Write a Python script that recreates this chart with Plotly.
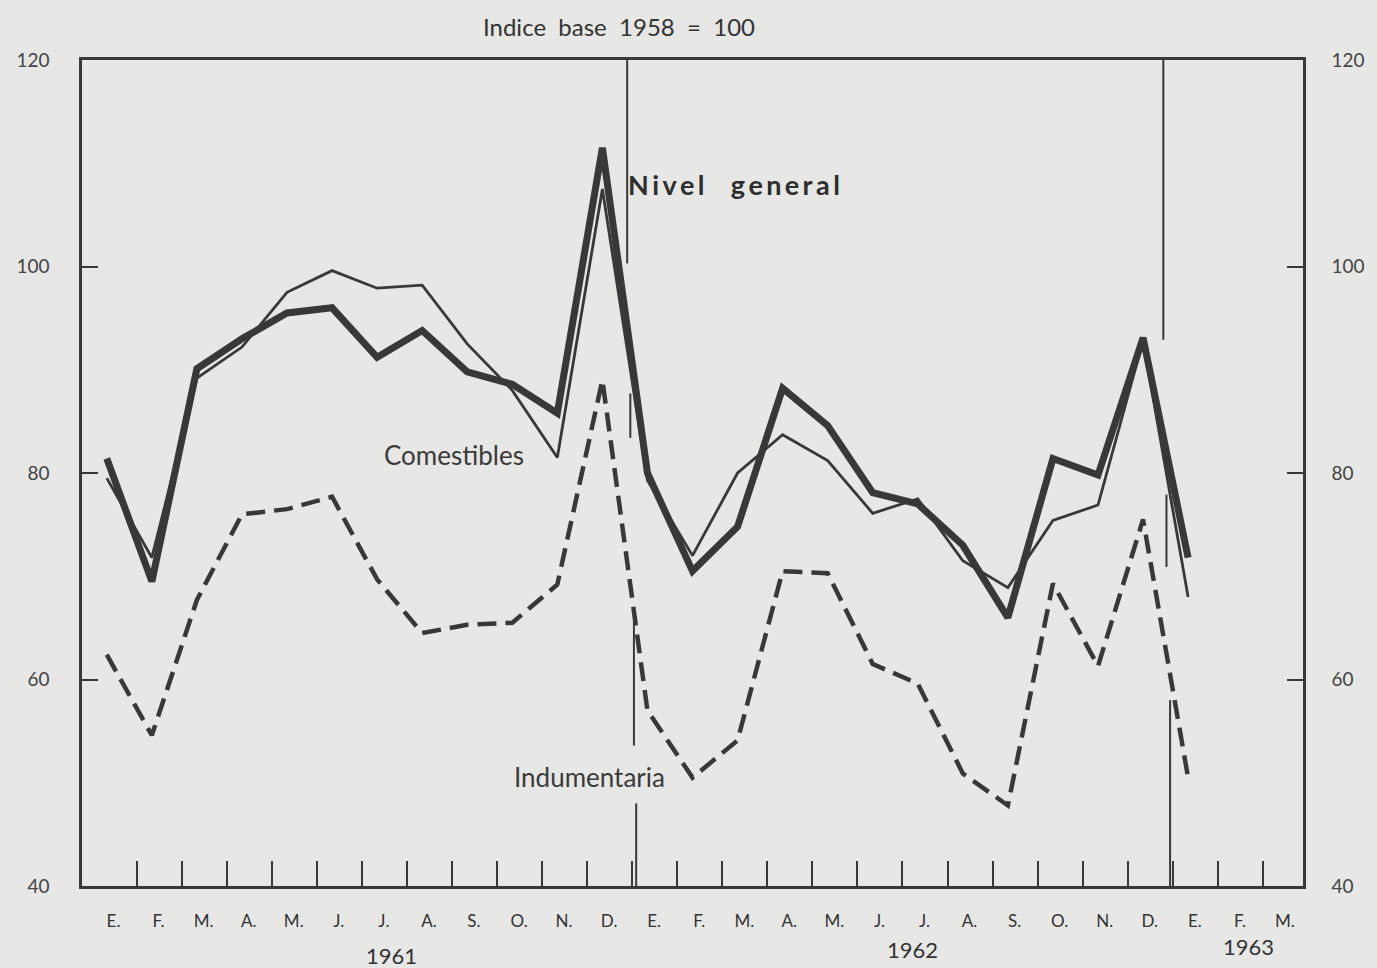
import plotly.graph_objects as go

# ---- data ----
months = ["E.", "F.", "M.", "A.", "M.", "J.", "J.", "A.", "S.", "O.", "N.", "D.",
          "E.", "F.", "M.", "A.", "M.", "J.", "J.", "A.", "S.", "O.", "N.", "D.",
          "E.", "F.", "M."]
years = ["1961", "1962", "1963"]

nivel_general = [81.4, 69.5, 90.1, 93.0, 95.5, 96.0, 91.2, 93.8, 89.8, 88.6, 85.8, 111.5,
                 80.0, 70.5, 74.8, 88.2, 84.6, 78.1, 77.0, 73.0, 66.0, 81.4, 79.8, 93.1,
                 71.8]
comestibles = [79.5, 71.8, 89.2, 92.2, 97.5, 99.6, 97.9, 98.2, 92.5, 88.0, 81.5, 107.5,
               79.3, 72.0, 80.0, 83.7, 81.2, 76.1, 77.5, 71.5, 68.9, 75.4, 76.9, 92.8,
               68.0]
indumentaria = [62.4, 54.6, 67.7, 76.0, 76.5, 77.7, 69.7, 64.5, 65.3, 65.5, 69.2, 89.0,
                57.0, 50.5, 54.1, 70.5, 70.3, 61.5, 59.6, 50.9, 47.8, 69.3, 61.3, 75.5,
                50.5]

y_ticks = [40, 60, 80, 100, 120]

INK = "#383838"
BG = "#e7e7e5"
FONT = "Lato, 'Open Sans', sans-serif"

W, H = 1377, 968
PLOT_L, PLOT_R, PLOT_T, PLOT_B = 82, 1312, 60, 886


def py(px):
    """pixel row -> paper y"""
    return (PLOT_B - px) / (PLOT_B - PLOT_T)


x_idx = list(range(len(nivel_general)))

fig = go.Figure()

fig.add_trace(go.Scatter(x=x_idx, y=indumentaria, mode="lines",
                         line=dict(color=INK, width=4.5, dash="19px,9px"),
                         name="Indumentaria", hoverinfo="skip"))
fig.add_trace(go.Scatter(x=x_idx, y=nivel_general, mode="lines",
                         line=dict(color=INK, width=7),
                         name="Nivel general", hoverinfo="skip"))
fig.add_trace(go.Scatter(x=x_idx, y=comestibles, mode="lines",
                         line=dict(color=INK, width=2.8),
                         name="Comestibles", hoverinfo="skip", yaxis="y2"))

# year separator lines (broken where series cross)
sep_segments = [
    (11.55, 120, 100.3), (11.62, 87.7, 83.4), (11.7, 67.0, 53.6), (11.75, 48.0, 40),
    (23.45, 120, 92.9), (23.52, 77.9, 70.9), (23.6, 58.0, 40),
]
for xs, y0, y1 in sep_segments:
    fig.add_shape(type="line", xref="x", yref="y", x0=xs, x1=xs, y0=y0, y1=y1,
                  line=dict(color=INK, width=2))

# series labels
TS = "\u2009"
nivel_txt = "<b>" + TS.join("Nivel") + "    " + TS.join("general") + "</b>"
fig.add_annotation(x=13.92, y=107.9, xref="x", yref="y", text=nivel_txt,
                   showarrow=False, font=dict(family=FONT, size=27, color="#2e2e2e"))
fig.add_annotation(x=7.71, y=81.7, xref="x", yref="y", text="Comestibles",
                   showarrow=False, font=dict(family=FONT, size=26, color="#3a3a3a"))
fig.add_annotation(x=10.71, y=50.55, xref="x", yref="y", text="Indumentaria",
                   showarrow=False, font=dict(family=FONT, size=26, color="#3a3a3a"))

# title
fig.add_annotation(x=0.44, y=py(27), xref="paper", yref="paper", yanchor="middle",
                   text="Indice  base  1958  =  100", showarrow=False,
                   font=dict(family=FONT, size=24, color="#333333"))

# year labels
year_pos = [(6.33, 955), (17.88, 950), (25.33, 946)]
for yr, (xp, yp) in zip(years, year_pos):
    fig.add_annotation(x=xp, y=py(yp), xref="x", yref="paper", yanchor="middle",
                       text=yr, showarrow=False,
                       font=dict(family=FONT, size=22, color="#333333"))

fig.update_layout(
    width=W, height=H,
    margin=dict(l=PLOT_L, r=W - PLOT_R, t=PLOT_T, b=H - PLOT_B),
    paper_bgcolor=BG, plot_bgcolor=BG,
    showlegend=False,
    font=dict(family=FONT, color="#333333"),
    xaxis=dict(
        range=[-0.55, 26.55],
        tickmode="array",
        tickvals=[i + 0.15 for i in range(len(months))],
        ticktext=months,
        ticks="",
        showgrid=False, zeroline=False,
        showline=True, mirror=True, linecolor=INK, linewidth=2.5,
        tickfont=dict(size=17, color="#333333"),
        ticklabelstandoff=18,
        minor=dict(tickmode="array",
                   tickvals=[i + 0.66 for i in range(len(months) - 1)],
                   ticks="inside", ticklen=25, tickwidth=2.2, tickcolor=INK,
                   showgrid=False),
    ),
    yaxis=dict(
        range=[40, 120], tickmode="array", tickvals=y_ticks,
        ticks="inside", ticklen=16, tickwidth=2, tickcolor=INK,
        showgrid=False, zeroline=False,
        showline=True, linecolor=INK, linewidth=2.5,
        tickfont=dict(size=19, color="#444444"),
        ticklabelstandoff=26,
    ),
    yaxis2=dict(
        range=[40, 120], tickmode="array", tickvals=y_ticks,
        overlaying="y", side="right",
        ticks="inside", ticklen=16, tickwidth=2, tickcolor=INK,
        showgrid=False, zeroline=False,
        showline=True, linecolor=INK, linewidth=2.5,
        tickfont=dict(size=19, color="#444444"),
        ticklabelstandoff=22,
    ),
)

fig.write_html("out.html",
               config={"displayModeBar": False},
               post_script="document.body.style.margin='0';document.body.style.padding='0';"
                           "document.body.style.background='" + BG + "';")
